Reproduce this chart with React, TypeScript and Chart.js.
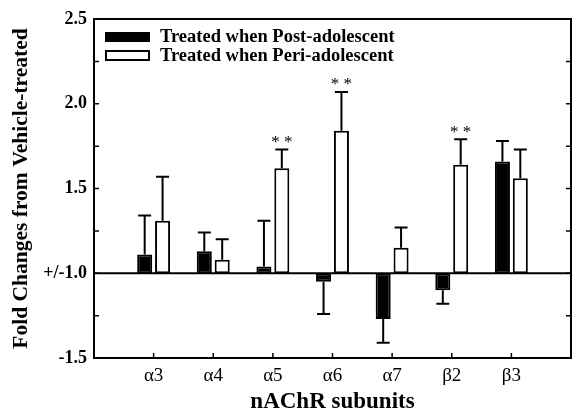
import React, { useEffect, useRef } from "react";
import { Chart, registerables } from "chart.js";

Chart.register(...registerables);

const categories = ["α3", "α4", "α5", "α6", "α7", "β2", "β3"];
const postLabel = "Treated when Post-adolescent";
const periLabel = "Treated when Peri-adolescent";
const postValues = [1.11, 1.13, 1.04, -1.05, -1.27, -1.1, 1.66];
const periValues = [1.31, 1.08, 1.62, 1.84, 1.15, 1.64, 1.56];
const postErrEnds = [1.34, 1.24, 1.31, -1.24, -1.41, -1.18, 1.78];
const periErrEnds = [1.57, 1.2, 1.73, 2.07, 1.27, 1.79, 1.73];
const periMarks = ["", "", "* *", "* *", "", "* *", ""];
const yTickValues = [-1.5, 1.0, 1.5, 2.0, 2.5];

const FONT = "'Liberation Serif', 'Times New Roman', serif";

// fold change (+/-) to linear plotting units, baseline +/-1.0 at 0
const toLin = (f: number) => (f > 0 ? f - 1 : f + 1);
const linToLabel = (v: number) => {
  if (Math.abs(v) < 1e-9) return "+/-1.0";
  return v > 0 ? (1 + v).toFixed(1) : (v - 1).toFixed(1);
};

const decorPlugin = {
  id: "decor",
  afterDatasetsDraw(chart: any) {
    const { ctx, chartArea, scales } = chart;
    const x = scales.x;
    const y = scales.y;
    const { left, right, top, bottom } = chartArea;
    ctx.save();
    ctx.strokeStyle = "#000";
    ctx.fillStyle = "#000";
    ctx.lineWidth = 2;

    // error bars
    const drawErr = (dsIndex: number, values: number[], ends: number[]) => {
      const meta = chart.getDatasetMeta(dsIndex);
      values.forEach((v, i) => {
        const el = meta.data[i + 1];
        if (!el) return;
        const cx = el.x;
        const y0 = y.getPixelForValue(toLin(v));
        const y1 = y.getPixelForValue(toLin(ends[i]));
        ctx.beginPath();
        ctx.moveTo(cx, y0);
        ctx.lineTo(cx, y1);
        ctx.moveTo(cx - 6.5, y1);
        ctx.lineTo(cx + 6.5, y1);
        ctx.stroke();
      });
    };
    drawErr(0, postValues, postErrEnds);
    drawErr(1, periValues, periErrEnds);

    // significance marks
    const periMeta = chart.getDatasetMeta(1);
    ctx.font = `17px ${FONT}`;
    ctx.textAlign = "center";
    ctx.textBaseline = "middle";
    periMarks.forEach((m, i) => {
      if (!m) return;
      const el = periMeta.data[i + 1];
      const yy = y.getPixelForValue(toLin(periErrEnds[i]));
      ctx.fillText(m, el.x, yy - 7);
    });

    // baseline
    const yb = y.getPixelForValue(0);
    ctx.beginPath();
    ctx.moveTo(left, yb);
    ctx.lineTo(right, yb);
    ctx.stroke();

    // frame
    ctx.strokeRect(left, top, right - left, bottom - top);

    // inward ticks on left/right (major and minor)
    ctx.lineWidth = 1.5;
    for (let v = y.min; v <= y.max + 1e-9; v += 0.25) {
      const py = y.getPixelForValue(v);
      ctx.beginPath();
      ctx.moveTo(left, py);
      ctx.lineTo(left + 5, py);
      ctx.moveTo(right, py);
      ctx.lineTo(right - 5, py);
      ctx.stroke();
    }
    // inward ticks on bottom
    for (let i = 1; i <= categories.length; i++) {
      const px = x.getPixelForValue(i);
      ctx.beginPath();
      ctx.moveTo(px, bottom);
      ctx.lineTo(px, bottom - 5);
      ctx.stroke();
    }

    // legend
    const lx = left + 11;
    ctx.fillStyle = "#000";
    ctx.fillRect(lx, top + 13, 45, 10);
    ctx.lineWidth = 2;
    ctx.fillStyle = "#fff";
    ctx.fillRect(lx + 1, top + 32, 43, 9);
    ctx.strokeRect(lx + 1, top + 32, 43, 9);
    ctx.fillStyle = "#000";
    ctx.font = `bold 18.5px ${FONT}`;
    ctx.textAlign = "left";
    ctx.textBaseline = "middle";
    ctx.fillText(postLabel, lx + 55, top + 18);
    ctx.fillText(periLabel, lx + 55, top + 37);
    ctx.restore();
  },
};

export default function App() {
  const ref = useRef<HTMLCanvasElement>(null);
  useEffect(() => {
    if (!ref.current) return;
    const labels = ["", ...categories, ""];
    const chart = new Chart(ref.current, {
      type: "bar",
      data: {
        labels,
        datasets: [
          {
            label: postLabel,
            data: [null, ...postValues.map(toLin), null],
            backgroundColor: "#000",
            borderColor: "#000",
            borderWidth: 2,
            borderSkipped: false,
          },
          {
            label: periLabel,
            data: [null, ...periValues.map(toLin), null],
            backgroundColor: "#fff",
            borderColor: "#000",
            borderWidth: 2,
            borderSkipped: false,
          },
        ],
      },
      options: {
        responsive: false,
        animation: false,
        events: [],
        layout: { padding: { left: 0, right: 4, top: 19, bottom: 0 } },
        datasets: { bar: { categoryPercentage: 0.6, barPercentage: 0.84 } },
        plugins: { legend: { display: false }, tooltip: { enabled: false } },
        scales: {
          x: {
            type: "category",
            offset: false,
            grid: { display: false, drawTicks: false },
            border: { display: false },
            ticks: {
              color: "#000",
              font: { family: FONT, size: 19 },
              padding: 7,
              maxRotation: 0,
              autoSkip: false,
            },
            title: {
              display: true,
              text: "nAChR subunits",
              color: "#000",
              font: { family: FONT, size: 23, weight: "bold" },
              padding: { top: 0, bottom: 0 },
            },
            afterFit: (s: any) => {
              s.height = 58;
            },
          },
          y: {
            min: -0.5,
            max: 1.5,
            grid: { display: false, drawTicks: false },
            border: { display: false },
            afterBuildTicks: (s: any) => {
              s.ticks = yTickValues.map((f) => ({ value: toLin(f) }));
            },
            ticks: {
              color: "#000",
              font: { family: FONT, size: 18, weight: "bold" },
              padding: 7,
              callback: (v: any) => linToLabel(Number(v)),
            },
            title: {
              display: true,
              text: "Fold Changes from Vehicle-treated",
              color: "#000",
              font: { family: FONT, size: 21.5, weight: "bold" },
              padding: { top: 9, bottom: 0 },
            },
            afterFit: (s: any) => {
              s.width = 94;
            },
          },
        },
      },
      plugins: [decorPlugin],
    } as any);
    return () => chart.destroy();
  }, []);
  return (
    <div style={{ position: "absolute", left: 0, top: 0, width: 578, height: 416, background: "#fff" }}>
      <canvas ref={ref} width={578} height={416} />
    </div>
  );
}
